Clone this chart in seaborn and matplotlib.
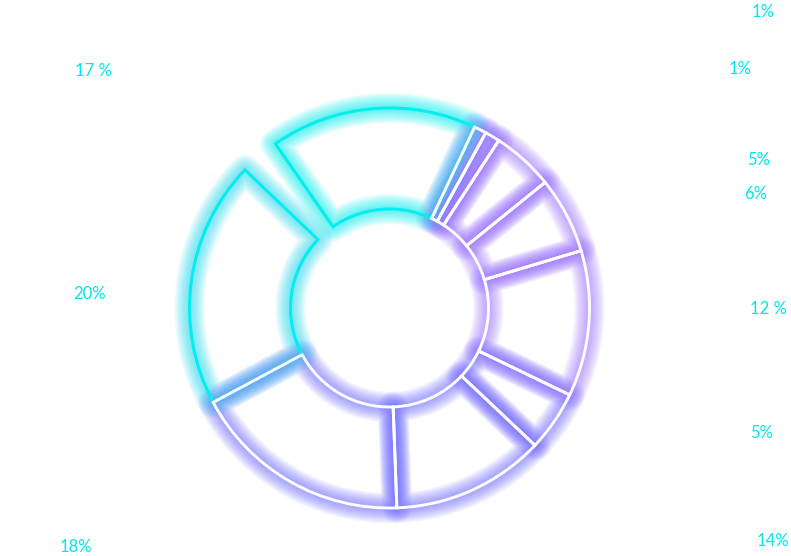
"""
Neon style donut chart of category shares
"""

import matplotlib
matplotlib.use("Agg")
import matplotlib.pyplot as plt
import seaborn as sns
import numpy as np

# slice shares (percent of the ring), counter-clockwise from the top slice;
# the None entry is an empty gap in the ring
shares = [16.7, 3.2, 20.0, 17.8, 12.4, 4.9, 11.8, 6.2, 5.0, 1.2, 1.0]
labels = ["17 %", None, "20%", "18%", "14%", "5%", "12 %", "6%", "5%", "1%", "1%"]

# label anchor points in pixels (x from left, y from top)
label_x = [93, None, 90, 76, 773, 762, 768, 756, 759, 740, 763]
label_y = [71, None, 294, 547, 541, 433, 309, 194, 160, 69, 12]

CYAN = "#00eef0"
BLUE = "#6a68ff"
PURPLE = "#9b72ff"
edge_colors = [CYAN, "none", CYAN, "white", "white", "white", "white", "white", "white", "white", "white"]
glow_colors = [CYAN, "none", "#22dcf4", BLUE, BLUE, "#7466ff", PURPLE, PURPLE, PURPLE, PURPLE, "#8a7cff"]

W, H = 791, 556


def draw_ring(ax, lw, edges, alpha=1.0, join="miter"):
    wedges, _ = ax.pie(shares, startangle=64.8, counterclock=True,
                       radius=200, center=(389.5, H - 308),
                       wedgeprops=dict(width=101, linewidth=lw, facecolor="none",
                                       joinstyle=join))
    for w, c in zip(wedges, edges):
        w.set_facecolor("none")
        w.set_edgecolor(c)
        if c == "none":
            w.set_visible(False)
        else:
            w.set_alpha(alpha)
    return wedges


def main():
    sns.set_style("white")
    plt.rcParams["font.family"] = ["Lato", "DejaVu Sans"]

    fig = plt.figure(figsize=(W / 100, H / 100), dpi=100)
    ax = fig.add_axes([0, 0, 1, 1])

    # soft glow: many wide faint strokes stacked under the crisp outline
    for lw in np.arange(22, 2, -1.5):
        draw_ring(ax, lw, glow_colors, alpha=0.06, join="round")

    draw_ring(ax, 2.1, edge_colors)

    for txt, x, y in zip(labels, label_x, label_y):
        if txt is None:
            continue
        ax.text(x, H - y, txt, color="#00e6ee", fontsize=12,
                ha="center", va="center")

    ax.set_xlim(0, W)
    ax.set_ylim(0, H)
    ax.set_aspect("equal")
    ax.axis("off")

    fig.savefig("out.png", dpi=100, facecolor="white")


if __name__ == "__main__":
    main()
